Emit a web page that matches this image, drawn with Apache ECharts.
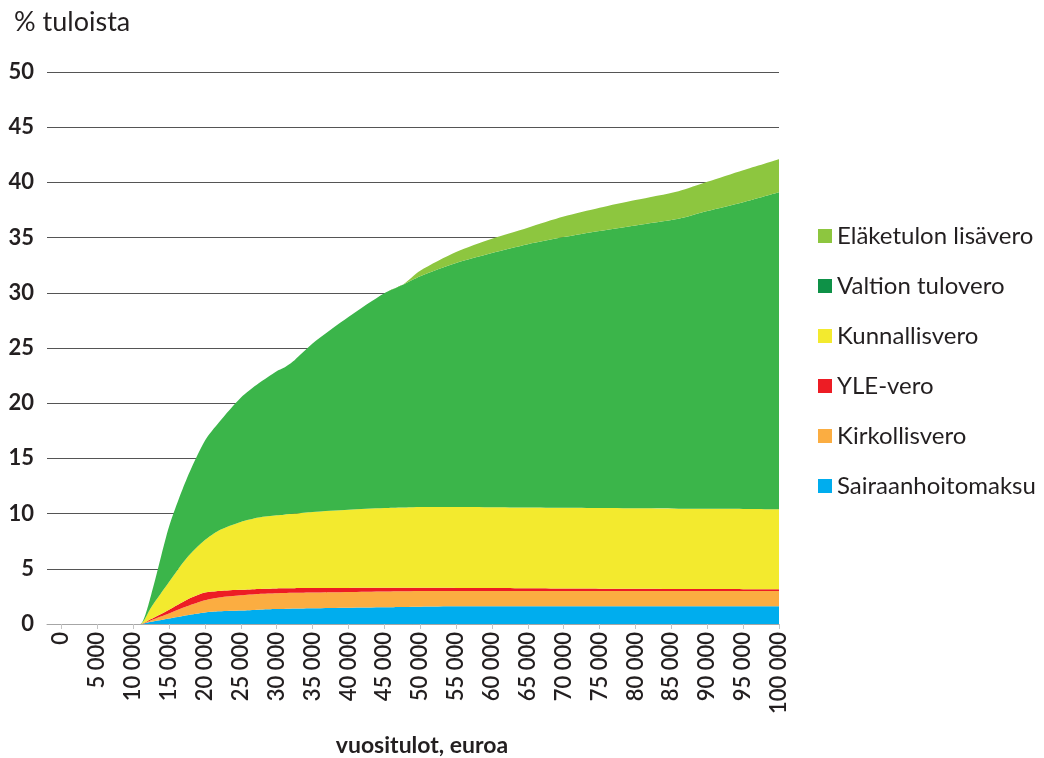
<!DOCTYPE html>
<html>
<head>
<meta charset="utf-8">
<script src="https://cdn.jsdelivr.net/npm/echarts@6/dist/echarts.min.js"></script>
<style>
html,body{margin:0;padding:0;background:#fff;}
#chart{width:1044px;height:758px;}
</style>
</head>
<body>
<div id="chart"></div>
<script>
// Annual income (euros)
const incomes = [0,5000,10000,11000,12500,15000,17500,20000,22000,25000,27500,30000,31000,32500,35000,40000,45000,47500,50000,55000,60000,65000,70000,75000,80000,86000,90000,95000,100000];
// Share of income (%) by tax type
const sairaanhoitomaksu = [0,0,0,0,0.2,0.5,0.8,1.05,1.15,1.22,1.3,1.35,1.37,1.4,1.43,1.48,1.52,1.55,1.57,1.6,1.6,1.6,1.6,1.6,1.6,1.6,1.6,1.6,1.6];
const kirkollisvero = [0,0,0,0,0.15,0.45,0.8,1.1,1.25,1.38,1.42,1.43,1.43,1.42,1.42,1.42,1.43,1.42,1.43,1.4,1.4,1.4,1.4,1.4,1.4,1.4,1.4,1.4,1.4];
const yleVero = [0,0,0,0,0.1,0.35,0.6,0.7,0.6,0.5,0.46,0.44,0.43,0.42,0.4,0.37,0.33,0.31,0.28,0.27,0.25,0.23,0.21,0.2,0.19,0.17,0.16,0.15,0.14];
const kunnallisvero = [0,0,0,0,1.05,2.5,3.8,4.75,5.5,6.15,6.47,6.63,6.67,6.76,6.9,7.08,7.22,7.27,7.32,7.33,7.33,7.32,7.31,7.3,7.29,7.28,7.27,7.27,7.26];
const valtionTulovero = [0,0,0,0,1.1,5.0,7.2,9.0,9.8,11.25,12.15,13.05,13.3,13.9,15.25,17.45,19.45,20.15,20.9,22.1,23.02,23.85,24.53,25.1,25.62,26.25,26.97,27.78,28.7];
const elaketulonLisavero = [0,0,0,0,0,0,0,0,0,0,0,0,0,0,0,0,0,0,0.5,1.0,1.3,1.5,1.85,2.1,2.3,2.5,2.65,2.9,3.0];
// Axis ticks
const xTickValues = [0,5000,10000,15000,20000,25000,30000,35000,40000,45000,50000,55000,60000,65000,70000,75000,80000,85000,90000,95000,100000];

const seriesDefs = [
  {name:'Sairaanhoitomaksu', data:sairaanhoitomaksu, color:'#00adee'},
  {name:'Kirkollisvero', data:kirkollisvero, color:'#fbad41'},
  {name:'YLE-vero', data:yleVero, color:'#ed1c24'},
  {name:'Kunnallisvero', data:kunnallisvero, color:'#f3ea2e'},
  {name:'Valtion tulovero', data:valtionTulovero, color:'#3bb54a', legendColor:'#0e9147'},
  {name:'Eläketulon lisävero', data:elaketulonLisavero, color:'#8dc63f'}
];

const FONT = 'Lato';
const chart = echarts.init(document.getElementById('chart'));
const fmt = v => String(v).replace(/\B(?=(\d{3})+(?!\d))/g, ' ');

chart.setOption({
  backgroundColor:'#ffffff',
  animation:false,
  title:{
    text:'% tuloista', left:14, top:9, padding:0,
    textStyle:{fontFamily:FONT, fontSize:27, fontWeight:'normal', color:'#231f20'}
  },
  legend:{
    orient:'vertical', left:818, top:224, padding:0,
    itemWidth:14, itemHeight:14, itemGap:26, icon:'rect',
    textStyle:{fontFamily:FONT, fontSize:24, color:'#231f20', lineHeight:23},
    data: seriesDefs.slice().reverse().map(s => ({name:s.name, itemStyle:{color:s.legendColor || s.color}}))
  },
  grid:{left:47, right:265, top:72, bottom:134, outerBoundsMode:'none', containLabel:false},
  xAxis:{
    type:'value', min:-2000, max:100000,
    splitLine:{show:false},
    axisLine:{show:true, lineStyle:{color:'#a6a6a6', width:1}},
    axisTick:{show:true, customValues:xTickValues, length:5, lineStyle:{color:'#c4c4c4'}},
    axisLabel:{customValues:xTickValues, rotate:90, margin:8, formatter:fmt,
      fontFamily:FONT, fontSize:22, fontWeight:600, color:'#231f20'},
    name:'vuositulot, euroa', nameLocation:'middle', nameGap:110,
    nameTextStyle:{fontFamily:FONT, fontSize:23, fontWeight:'bold', color:'#231f20', padding:[0,0,0,18]}
  },
  yAxis:{
    type:'value', min:0, max:50, interval:5,
    axisLine:{show:false}, axisTick:{show:false},
    splitLine:{show:true, lineStyle:{color:'#555555', width:1}},
    axisLabel:{margin:13, fontFamily:FONT, fontSize:22, fontWeight:'bold', color:'#231f20'}
  },
  series: seriesDefs.map(s => ({
    name:s.name, type:'line', stack:'total',
    // value first so that the library stacks on the y dimension
    data: incomes.map((x,i) => [s.data[i], x]),
    encode:{x:1, y:0},
    symbol:'none', smooth:0.25,
    lineStyle:{width:0, color:s.color},
    itemStyle:{color:s.color},
    areaStyle:{color:s.color, opacity:1}
  }))
});
</script>
</body>
</html>
